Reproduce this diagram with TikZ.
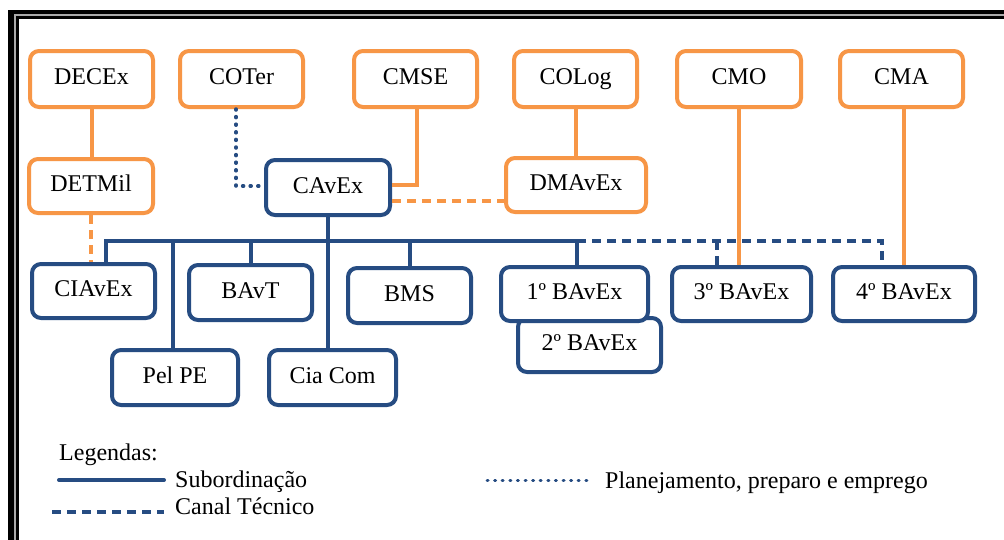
\documentclass[tikz,border=0pt]{standalone}
\usepackage{fontspec}
\setmainfont{Liberation Serif}
\usetikzlibrary{calc}
\definecolor{org}{RGB}{247,150,70}
\definecolor{blu}{RGB}{38,76,130}
\definecolor{frgray}{RGB}{170,170,170}
\begin{document}
\begin{tikzpicture}[x=1pt,y=-1pt,
  box/.style={draw, fill=white, rounded corners=9pt, line width=4pt, inner sep=0pt,
    font=\fontsize{24}{28}\selectfont, text height=16.5pt, text depth=5pt},
  obox/.style={box, draw=org},
  bbox/.style={box, draw=blu},
  sub/.style={draw=blu, line width=4pt},
  tec/.style={line width=4pt, dash pattern=on 9pt off 6pt},
  plan/.style={draw=blu, line width=3.5pt, line cap=round, dash pattern=on 1pt off 6.6pt},
  olink/.style={draw=org, line width=4pt},
  leg/.style={font=\fontsize{24}{28}\selectfont, anchor=base west, inner sep=0pt}]
\useasboundingbox (0,0) rectangle (1004,539);
\begin{scope}
\clip (0,0) rectangle (1004,539);
\fill[black] (8,10) rectangle (1100,600);
\fill[frgray] (14,14) rectangle (1100,600);
\fill[black] (15.5,15.5) rectangle (1100,600);
\fill[white] (19,19) rectangle (1100,600);
\end{scope}

% orange top row
\node[obox, minimum width=123pt, minimum height=56pt] (DECEx) at (91.5,79) {DECEx};
\node[obox, minimum width=123pt, minimum height=56pt] (COTer) at (241.5,79) {COTer};
\node[obox, minimum width=123pt, minimum height=56pt] (CMSE) at (415.5,79) {CMSE};
\node[obox, minimum width=123pt, minimum height=56pt] (COLog) at (575.5,79) {COLog};
\node[obox, minimum width=124pt, minimum height=56pt] (CMO) at (739,79) {CMO};
\node[obox, minimum width=123pt, minimum height=56pt] (CMA) at (901.5,79) {CMA};
% second row
\node[obox, minimum width=124pt, minimum height=54pt] (DETMil) at (91,186) {DETMil};
\node[obox, minimum width=140pt, minimum height=54pt] (DMAvEx) at (576,185) {DMAvEx};
\node[bbox, minimum width=124pt, minimum height=55pt] (CAvEx) at (328,187.5) {CAvEx};

% orange connectors
\draw[olink] (DECEx.south) -- (DECEx.south |- DETMil.north);
\coordinate (cmseS) at ($(CMSE.south)+(1.5,0)$);
\coordinate (cavR) at ($(CAvEx.east)+(0,-2.5)$);
\draw[olink] (cmseS) |- (cavR);
\draw[olink] (COLog.south) -- (COLog.south |- DMAvEx.north);
\coordinate (dmL) at ($(CAvEx.east)+(0,13.5)$);
\draw[olink, tec] (dmL) -- (dmL -| DMAvEx.west);
\coordinate (cotS) at ($(COTer.south)+(-5.5,0)$);
\coordinate (cavL) at ($(CAvEx.west)+(0,-1.5)$);
\draw[plan] (cotS) |- (cavL);

% bottom boxes
\node[bbox, minimum width=123pt, minimum height=54pt] (CIAvEx) at (93.5,291) {CIAvEx};
\node[bbox, minimum width=123pt, minimum height=55pt] (BAvT) at (250.5,292.5) {BAvT};
\node[bbox, minimum width=123pt, minimum height=55pt] (BMS) at (409.5,295.5) {BMS};
\node[bbox, minimum width=126pt, minimum height=55pt] (PelPE) at (175,377.5) {Pel PE};
\node[bbox, minimum width=127pt, minimum height=55pt] (CiaCom) at (332.5,377.5) {Cia Com};
\node[bbox, minimum width=143pt, minimum height=54pt] (B2) at (589.5,345) {2º BAvEx};
\node[bbox, minimum width=147pt, minimum height=54pt] (B1) at (574.5,294) {1º BAvEx};
\node[bbox, minimum width=139pt, minimum height=54pt] (B3) at (741.5,294) {3º BAvEx};
\node[bbox, minimum width=142pt, minimum height=54pt] (B4) at (904,294) {4º BAvEx};

% blue subordination bus
\coordinate (busy) at (0,241);
\coordinate (dCI) at ($(CIAvEx.north)+(12.5,0)$);
\coordinate (dB1) at ($(B1.north)+(2.5,0)$);
\coordinate (dPel) at ($(PelPE.north)+(-2,0)$);
\coordinate (dB3) at ($(B3.north)+(-24.5,0)$);
\coordinate (dB4) at ($(B4.north)+(-22,0)$);
\draw[sub] (CAvEx.south) -- (CAvEx.south |- CiaCom.north);
\draw[sub] (dCI) -- (dCI |- busy) -- (dB1 |- busy) -- (dB1);
\draw[sub] (dPel |- busy) -- (dPel);
\draw[sub] (BAvT.north |- busy) -- (BAvT.north);
\draw[sub] (BMS.north |- busy) -- (BMS.north);
% canal tecnico
\draw[sub, tec] (dB1 |- busy) -- (dB4 |- busy) -- (dB4);
\draw[sub, tec] (dB3 |- busy) -- (dB3);
% orange to lower boxes
\draw[olink, tec] (DETMil.south) -- (DETMil.south |- CIAvEx.north);
\draw[olink] (CMO.south) -- (CMO.south |- B3.north);
\coordinate (cmaS) at ($(CMA.south)+(2.5,0)$);
\draw[olink] (cmaS) -- (cmaS |- B4.north);

% legend
\node[leg] (lgT) at (59,460) {Legendas:};
\node[leg] (lgS) at (175,487) {Subordinação};
\node[leg] (lgC) at (175,514) {Canal Técnico};
\node[leg] (lgP) at (605,488) {Planejamento, preparo e emprego};
\coordinate (ls1) at (59,480); \coordinate (ls2) at (164,480);
\coordinate (lc1) at (52,512); \coordinate (lc2) at (164,512);
\coordinate (lp1) at (487,480); \coordinate (lp2) at (592,480);
\draw[sub, line cap=round] (ls1) -- (ls2);
\draw[sub, tec] (lc1) -- (lc2);
\draw[plan, line width=3pt] (lp1) -- (lp2);
\end{tikzpicture}
\end{document}
